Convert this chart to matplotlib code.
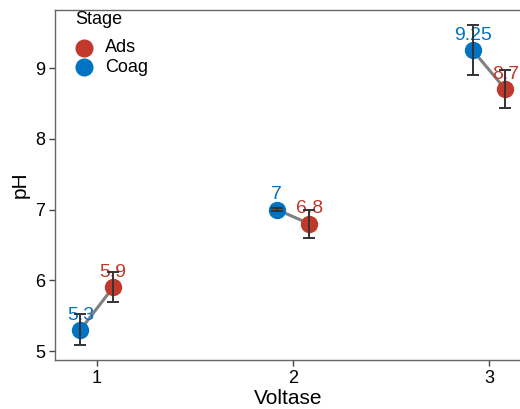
import numpy as np
import matplotlib.pyplot as plt

plt.rcParams['font.family'] = ['Liberation Sans', 'DejaVu Sans']

# pH by voltage level, two stages
voltase = [1, 2, 3]
stages = ['Ads', 'Coag']
ph_ads = [5.9, 6.8, 8.7]
ph_coag = [5.3, 7.0, 9.25]
lo_ads = [5.69, 6.60, 8.43]
hi_ads = [6.12, 7.00, 8.97]
lo_coag = [5.08, 6.98, 8.90]
hi_coag = [5.52, 7.02, 9.61]

colors = {'Ads': '#C0392B', 'Coag': '#0073C2'}
dodge = 0.083

fig = plt.figure(figsize=(5.2, 4.09), dpi=100)
ax = fig.add_axes([55 / 520, 49 / 409, 466 / 520, 350 / 409])

x = np.array(voltase, dtype=float)
x_coag = x - dodge
x_ads = x + dodge

# connecting segments within each voltage group
for xc, xa, yc, ya in zip(x_coag, x_ads, ph_coag, ph_ads):
    ax.plot([xc, xa], [yc, ya], color='#808080', lw=2.2, zorder=1,
            solid_capstyle='butt')

series = [
    ('Coag', x_coag, ph_coag, lo_coag, hi_coag),
    ('Ads', x_ads, ph_ads, lo_ads, hi_ads),
]
for name, xs, ys, lo, hi in series:
    col = colors[name]
    ax.plot(xs, ys, 'o', ms=11.5, color=col, zorder=2, lw=0)
    for xi, yi in zip(xs, ys):
        ax.annotate(f'{yi:g}', (xi, yi), xytext=(0, 4.5), textcoords='offset points',
                    ha='center', va='bottom', color=col, fontsize=14, zorder=3)
    yerr = [np.array(ys) - np.array(lo), np.array(hi) - np.array(ys)]
    ax.errorbar(xs, ys, yerr=yerr, fmt='none', ecolor='#333333', elinewidth=1.4,
                capsize=4, capthick=1.4, zorder=4)

ax.set_xlim(0.787, 3.163)
ax.set_ylim(4.873, 9.82)
ax.set_xticks(voltase)
ax.set_yticks([5, 6, 7, 8, 9])
ax.set_xlabel('Voltase', fontsize=15, labelpad=2)
ax.set_ylabel('pH', fontsize=15, labelpad=4)
ax.tick_params(labelsize=13, length=4, width=1, color='#444444', pad=3)
ax.spines['right'].set_visible(False)
for s in ax.spines.values():
    s.set_color('#666666')
    s.set_linewidth(1)

# legend drawn in figure pixels
W, H = 520, 409
fig.text(75 / W, 1 - 20 / H, 'Stage', fontsize=13, va='center', ha='left')
for i, s in enumerate(stages):
    yy = 1 - (48 + 19 * i) / H
    fig.lines.append(plt.Line2D([84 / W], [yy], marker='o', ms=12, lw=0,
                                color=colors[s], transform=fig.transFigure))
    fig.text(105 / W, yy, s, fontsize=13, va='center', ha='left')

fig.savefig('out.png', dpi=100)
